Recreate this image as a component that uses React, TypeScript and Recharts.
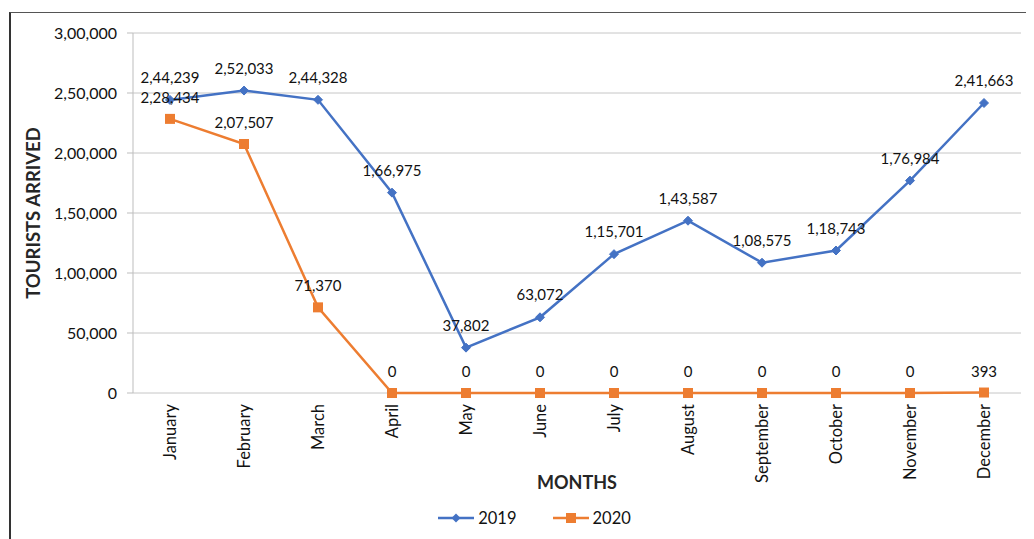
import React from "react";
import {
  LineChart,
  Line,
  XAxis,
  YAxis,
  CartesianGrid,
  Legend,
  LabelList,
  Label,
} from "recharts";

const months = [
  "January",
  "February",
  "March",
  "April",
  "May",
  "June",
  "July",
  "August",
  "September",
  "October",
  "November",
  "December",
];
const tourists2019 = [244239, 252033, 244328, 166975, 37802, 63072, 115701, 143587, 108575, 118743, 176984, 241663];
const tourists2020 = [228434, 207507, 71370, 0, 0, 0, 0, 0, 0, 0, 0, 393];
const yTicks = [0, 50000, 100000, 150000, 200000, 250000, 300000];
const boundaryTicks = [0, 1, 2, 3, 4, 5, 6, 7, 8, 9, 10, 11, 12];

const data = months.map((m, i) => ({
  month: m,
  y2019: tourists2019[i],
  y2020: tourists2020[i],
}));

const BLUE = "#4472C4";
const ORANGE = "#ED7D31";
const FONT = "Lato, 'Open Sans', sans-serif";

function fmt(n: number): string {
  const s = String(Math.round(n));
  if (s.length <= 3) return s;
  const last3 = s.slice(-3);
  const rest = s.slice(0, -3).replace(/\B(?=(\d{2})+(?!\d))/g, ",");
  return rest + "," + last3;
}

const Diamond = (props: any) => {
  const { cx, cy } = props;
  if (cx == null || cy == null) return null;
  const r = 4.5;
  return (
    <polygon
      key={`d-${cx}`}
      points={`${cx},${cy - r} ${cx + r},${cy} ${cx},${cy + r} ${cx - r},${cy}`}
      fill={BLUE}
      stroke={BLUE}
    />
  );
};

const Square = (props: any) => {
  const { cx, cy } = props;
  if (cx == null || cy == null) return null;
  const s = 10;
  return <rect key={`s-${cx}`} x={cx - s / 2} y={cy - s / 2} width={s} height={s} fill={ORANGE} />;
};

const MonthTick = (props: any) => {
  const { x, y, payload } = props;
  return (
    <g transform={`translate(${x},${y + 3})`}>
      <text
        transform="rotate(-90)"
        textAnchor="end"
        dy="0.35em"
        fontSize={16.5}
        fontFamily={FONT}
        fill="#111"
      >
        {payload.value}
      </text>
    </g>
  );
};

const LegendContent = () => {
  const items = [
    { name: "2019", color: BLUE, marker: "diamond" },
    { name: "2020", color: ORANGE, marker: "square" },
  ];
  return (
    <div
      style={{
        display: "flex",
        justifyContent: "center",
        gap: 36,
        fontFamily: FONT,
        fontSize: 16.5,
        color: "#111",
        marginLeft: 40,
      }}
    >
      {items.map((it) => (
        <div key={it.name} style={{ display: "flex", alignItems: "center", gap: 4 }}>
          <svg width={36} height={14}>
            <line x1={0} y1={7} x2={36} y2={7} stroke={it.color} strokeWidth={2.5} />
            {it.marker === "diamond" ? (
              <polygon points="18,2.5 22.5,7 18,11.5 13.5,7" fill={it.color} />
            ) : (
              <rect x={13} y={2} width={10} height={10} fill={it.color} />
            )}
          </svg>
          <span>{it.name}</span>
        </div>
      ))}
    </div>
  );
};

export default function App() {
  return (
    <div style={{ position: "relative", width: 1026, height: 531 }}>
      <div
        style={{
          position: "absolute",
          left: 1,
          top: 4,
          width: 1030,
          height: 540,
          borderTop: "1px solid #555",
          borderLeft: "2px solid #333",
          pointerEvents: "none",
        }}
      />
      <LineChart
        width={1026}
        height={531}
        data={data}
        margin={{ top: 25, right: 13, left: 0, bottom: 11 }}
      >
        <CartesianGrid vertical={false} stroke="#c6c6c6" strokeWidth={1} />
        <XAxis
          xAxisId="bounds"
          type="number"
          domain={[0, 12]}
          ticks={boundaryTicks}
          height={0}
          tickFormatter={() => ""}
          tickSize={6}
          stroke="#bdbdbd"
          tickLine={{ stroke: "#bdbdbd" }}
          axisLine={{ stroke: "#bdbdbd" }}
          allowDataOverflow
        />
        <XAxis
          dataKey="month"
          scale="band"
          interval={0}
          height={115}
          axisLine={false}
          tickLine={false}
          tick={<MonthTick />}
        >
          <Label
            content={(p: any) => {
              const vb = p.viewBox || {};
              return (
                <text
                  x={vb.x + vb.width / 2}
                  y={vb.y + 96}
                  textAnchor="middle"
                  fontFamily={FONT}
                  fontSize={18}
                  fontWeight="bold"
                  fill="#262626"
                >
                  MONTHS
                </text>
              );
            }}
          />
        </XAxis>
        <YAxis
          width={125}
          domain={[0, 300000]}
          ticks={yTicks}
          tickFormatter={fmt}
          tickSize={6}
          tickMargin={10}
          axisLine={{ stroke: "#bdbdbd" }}
          tickLine={{ stroke: "#bdbdbd" }}
          tick={{ fontSize: 16, fontFamily: FONT, fill: "#111" }}
        >
          <Label
            content={(p: any) => {
              const vb = p.viewBox || {};
              const cx = vb.x + 25;
              const cy = vb.y + vb.height / 2;
              return (
                <text
                  x={cx}
                  y={cy}
                  transform={`rotate(-90, ${cx}, ${cy})`}
                  textAnchor="middle"
                  dominantBaseline="central"
                  fontFamily={FONT}
                  fontSize={18.5}
                  fontWeight="bold"
                  fill="#262626"
                >
                  TOURISTS ARRIVED
                </text>
              );
            }}
          />
        </YAxis>
        <Legend verticalAlign="bottom" content={<LegendContent />} />
        <Line
          type="linear"
          dataKey="y2019"
          name="2019"
          stroke={BLUE}
          strokeWidth={2.5}
          dot={<Diamond />}
          activeDot={false}
          isAnimationActive={false}
        >
          <LabelList
            dataKey="y2019"
            position="top"
            offset={17}
            formatter={(v: any) => fmt(Number(v))}
            style={{ fontSize: 15, fontFamily: FONT, fill: "#111" }}
          />
        </Line>
        <Line
          type="linear"
          dataKey="y2020"
          name="2020"
          stroke={ORANGE}
          strokeWidth={2.5}
          dot={<Square />}
          activeDot={false}
          isAnimationActive={false}
        >
          <LabelList
            dataKey="y2020"
            position="top"
            offset={16}
            formatter={(v: any) => fmt(Number(v))}
            style={{ fontSize: 15, fontFamily: FONT, fill: "#111" }}
          />
        </Line>
      </LineChart>
    </div>
  );
}
